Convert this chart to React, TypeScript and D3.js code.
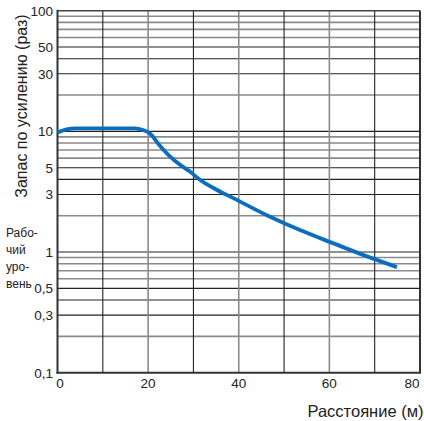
import React from "react";
import * as d3 from "d3";

const distance = [0, 2, 4, 10, 17, 19, 20.4, 22.6, 24.8, 27, 29.2, 31.5, 35, 38.8, 46.9, 53.5, 60.9, 68.3, 74.9];
const gain = [9.8, 10.4, 10.6, 10.6, 10.6, 10.2, 9.6, 7.6, 6.2, 5.3, 4.65, 3.95, 3.3, 2.8, 1.96, 1.52, 1.18, 0.92, 0.75];
const xTicks = [0, 20, 40, 60, 80];
const xGrid = [10, 20, 30, 40, 50, 60, 70];
const xGridGray = [20, 40, 60];
const yTicks = [100, 50, 30, 10, 5, 3, 1, 0.5, 0.3, 0.1];
const yTickLabels = ["100", "50", "30", "10", "5", "3", "1", "0,5", "0,3", "0,1"];
const yMultGray = [2, 6, 7, 8, 9];
const sideNote = ["Рабо-", "чий", "уро-", "вень"];

export default function App() {
  const W = 424, H = 421;
  const left = 57.5, right = 420, top = 10.7, bottom = 372.7;
  const x = d3.scaleLinear().domain([0, 80]).range([left, right]);
  const y = d3.scaleLog().domain([0.1, 100]).range([bottom, top]);
  const hLines: { v: number; gray: boolean }[] = [];
  [0.1, 1, 10].forEach((dec) => {
    for (let m = 1; m <= 9; m++) {
      const v = dec * m;
      if (v > 0.1 && v < 100) hLines.push({ v, gray: yMultGray.includes(m) });
    }
  });
  const line = d3
    .line<number>()
    .x((_, i) => x(distance[i]))
    .y((d) => y(d))
    .curve(d3.curveMonotoneX);
  const font = "'Liberation Sans', Arial, sans-serif";
  return (
    <svg width={W} height={H} style={{ position: "absolute", left: 0, top: 0 }} fontFamily={font}>
      <rect width={W} height={H} fill="#fff" />
      {hLines.map((h, i) => (
        <line key={"h" + i} x1={left} x2={right} y1={y(h.v)} y2={y(h.v)}
          stroke={h.gray ? "#8a8a8a" : "#222"} strokeWidth={h.gray ? 1.6 : 1.1} />
      ))}
      {xGrid.map((g) => {
        const gray = xGridGray.includes(g);
        return (
          <line key={"v" + g} x1={x(g)} x2={x(g)} y1={top} y2={bottom}
            stroke={gray ? "#8a8a8a" : "#222"} strokeWidth={gray ? 1.6 : 1.1} />
        );
      })}
      <line x1={left} x2={right} y1={top} y2={top} stroke="#444" strokeWidth={1.6} />
      <line x1={right} x2={right} y1={top} y2={bottom} stroke="#333" strokeWidth={2} />
      <line x1={left} x2={left} y1={top - 1} y2={bottom + 1} stroke="#333" strokeWidth={2} />
      <line x1={left - 1} x2={right + 1} y1={bottom} y2={bottom} stroke="#333" strokeWidth={2} />
      <path d={line(gain) || ""} fill="none" stroke="#0a6ec0" strokeWidth={3.8} strokeLinecap="butt" />
      {yTicks.map((t, i) => (
        <text key={"yt" + t} x={53} y={y(t) + 5} textAnchor="end" fontSize={13.5} fill="#222">
          {yTickLabels[i]}
        </text>
      ))}
      {xTicks.map((t) => (
        <text key={"xt" + t} x={t === 80 ? x(t) - 8 : x(t) + (t === 0 ? 2.5 : 0)} y={388} textAnchor="middle" fontSize={13.5} fill="#222">
          {t}
        </text>
      ))}
      <text transform={`translate(26.5,${106}) rotate(-90)`} textAnchor="middle" fontSize={16} fill="#222">
        Запас по усилению (раз)
      </text>
      {sideNote.map((s, i) => (
        <text key={"sn" + i} x={6} y={236.5 + i * 17.2} fontSize={12} fill="#222">
          {s}
        </text>
      ))}
      <text x={423.5} y={416.5} textAnchor="end" fontSize={16.5} fill="#222">
        Расстояние (м)
      </text>
    </svg>
  );
}
